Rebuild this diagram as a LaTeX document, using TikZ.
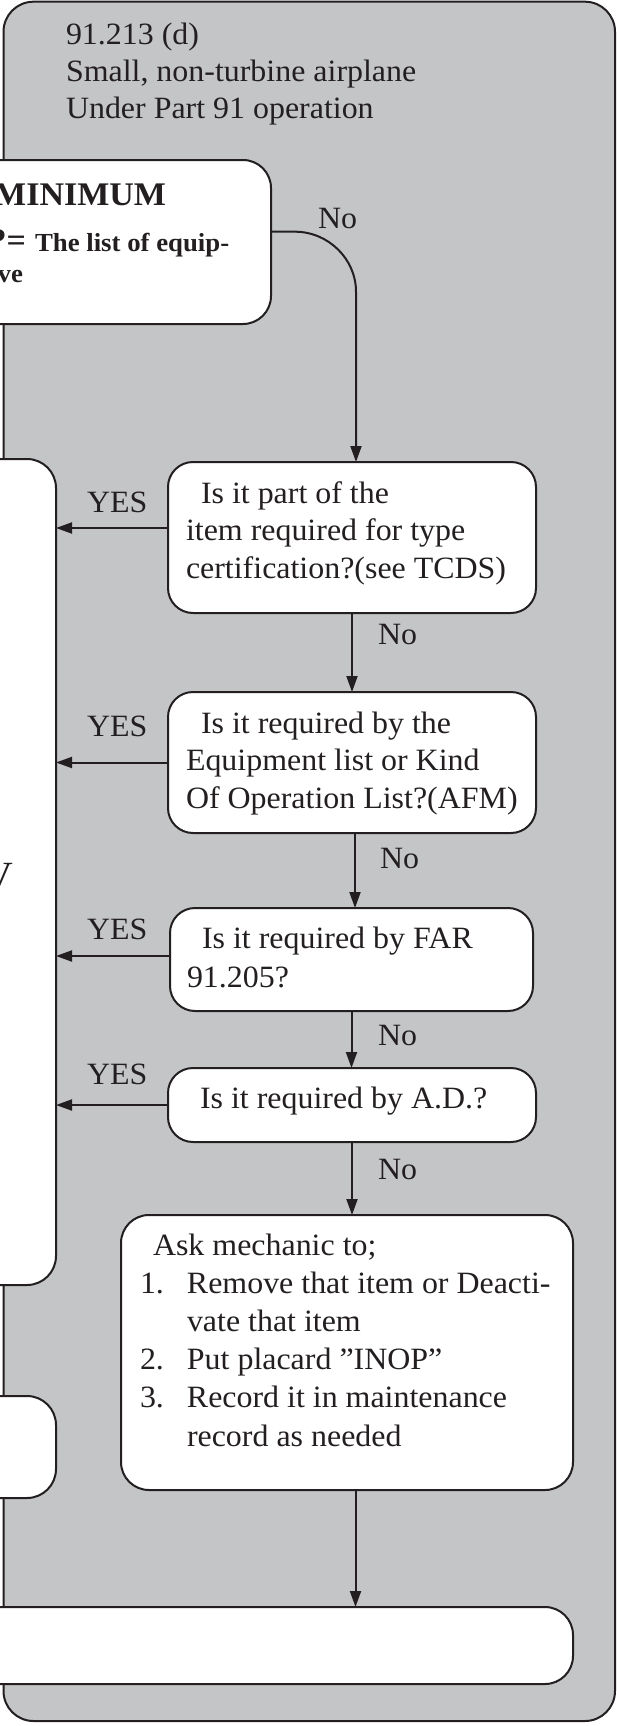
\documentclass[tikz,border=0pt]{standalone}
\usepackage{fontspec}
\setmainfont{Liberation Serif}[FakeStretch=1.03]
\usetikzlibrary{arrows.meta,calc}
\definecolor{panel}{RGB}{196,197,199}
\definecolor{ink}{RGB}{35,31,32}
\begin{document}
\begin{tikzpicture}[x=1pt,y=-1pt,
  box/.style={draw=ink, line width=2pt, fill=white, rounded corners=25pt, inner sep=0pt, outer sep=0pt, anchor=north west},
  bigbox/.style={box, rounded corners=29pt},
  txt/.style={inner sep=0pt, outer sep=0pt, text=ink, font=\fontsize{31}{37.5}\selectfont},
  bsmall/.style={inner sep=0pt, outer sep=0pt, text=ink, font=\fontsize{26}{30}\selectfont\bfseries},
  bbig/.style={inner sep=0pt, outer sep=0pt, text=ink, font=\fontsize{33}{38}\selectfont\bfseries},
  arr/.style={draw=ink, line width=2pt, -{Triangle[length=16pt,width=11pt]}},
]
\useasboundingbox (0,0) rectangle (617,1726);
\clip (0,0) rectangle (617,1726);
% outer panel
\node[bigbox, fill=panel, rounded corners=30pt, minimum width=611.5pt, minimum height=1719.3pt] (panel) at (3.5,1.7) {};
% title
\node[txt, anchor=base west] (title) at (66,45) {\vtop{\baselineskip=37pt
  \hbox{91.213 (d)}\hbox{Small, non-turbine airplane}\hbox{Under Part 91 operation}}};
% left boxes (cropped)
\node[bigbox, rounded corners=28pt, minimum width=311pt, minimum height=164pt] (top) at (-40,160) {};
\node[bigbox, minimum width=96pt, minimum height=826pt] (big) at (-40,459) {};
\node[bigbox, minimum width=96pt, minimum height=102pt] (small) at (-40,1396) {};
\node[bigbox, rounded corners=28pt, minimum width=613pt, minimum height=77pt] (bottom) at (-40,1607) {};
% texts of cropped top box
\node[bbig, anchor=base east] (mini) at (166,205) {MINIMUM};
\node[bbig, anchor=base east] (eq) at (26,251) {?=};
\node[bsmall, anchor=base west] (lst) at (35,251) {The list of equip-};
\node[bsmall, anchor=base east] (ve) at (23,282) {ve};
\node[txt, font=\fontsize{40}{40}\selectfont, anchor=base east] (frag) at (13,889) {V};
% question boxes
\node[box, minimum width=368pt, minimum height=151pt] (q1) at (168,462) {};
\node[box, minimum width=368pt, minimum height=141pt] (q2) at (168,692) {};
\node[box, minimum width=363pt, minimum height=103pt] (q3) at (170,908) {};
\node[box, minimum width=368pt, minimum height=74pt] (q4) at (168,1068) {};
\node[box, rounded corners=28pt, minimum width=452pt, minimum height=275pt] (act) at (121,1215) {};
% question texts
\node[txt, anchor=base west] (q1t) at (186,503) {\vtop{\baselineskip=37.5pt
  \hbox{\kern15pt Is it part of the}\hbox{item required for type}\hbox{certification?(see TCDS)}}};
\node[txt, anchor=base west] (q2t) at (186,733) {\vtop{\baselineskip=37.5pt
  \hbox{\kern15pt Is it required by the}\hbox{Equipment list or Kind}\hbox{Of Operation List?(AFM)}}};
\node[txt, anchor=base west] (q3t) at (187,948) {\vtop{\baselineskip=39pt
  \hbox{\kern15pt Is it required by FAR}\hbox{91.205?}}};
\node[txt, anchor=base west] (q4t) at (200,1108) {Is it required by A.D.?};
\node[txt, anchor=base west] (actt) at (140,1255) {\vtop{\baselineskip=38.2pt
  \hbox{\kern13pt Ask mechanic to;}
  \hbox{\hbox to 47pt{1.\hfil}Remove that item or Deacti-}
  \hbox{\kern47pt vate that item}
  \hbox{\hbox to 47pt{2.\hfil}Put placard ”INOP”}
  \hbox{\hbox to 47pt{3.\hfil}Record it in maintenance}
  \hbox{\kern47pt record as needed}}};
% labels
\node[txt, anchor=base west] (no0) at (318,228) {No};
\node[txt, anchor=base west] (no1) at (378,644) {No};
\node[txt, anchor=base west] (no2) at (380,868) {No};
\node[txt, anchor=base west] (no3) at (378,1045) {No};
\node[txt, anchor=base west] (no4) at (378,1179) {No};
\node[txt, anchor=base west] (y1) at (87,512) {YES};
\node[txt, anchor=base west] (y2) at (87,736) {YES};
\node[txt, anchor=base west] (y3) at (87,939) {YES};
\node[txt, anchor=base west] (y4) at (87,1084) {YES};
% connectors
\draw[arr] ([yshift=10.3pt]top.east) -- ++(24,0) .. controls +(33,0) and +(0,-33) .. ++(61,60) -- ([xshift=4pt]q1.north);
\draw[arr] (q1.south) -- (q2.north);
\draw[arr] ([xshift=3pt]q2.south) -- ([xshift=3pt]q2.south |- q3.north);
\draw[arr] (q3.south) -- (q3.south |- q4.north);
\draw[arr] (q4.south) -- (q4.south |- act.north);
\draw[arr] ([xshift=8.5pt]act.south) -- ([xshift=8.5pt]act.south |- bottom.north);
\draw[arr] ([yshift=9.5pt]q1.west) -- ([yshift=9.5pt]q1.west -| big.east);
\draw[arr] (q2.west) -- (q2.west -| big.east);
\draw[arr] ([yshift=3.5pt]q3.west) -- ([yshift=3.5pt]q3.west -| big.east);
\draw[arr] (q4.west) -- (q4.west -| big.east);
\end{tikzpicture}
\end{document}
